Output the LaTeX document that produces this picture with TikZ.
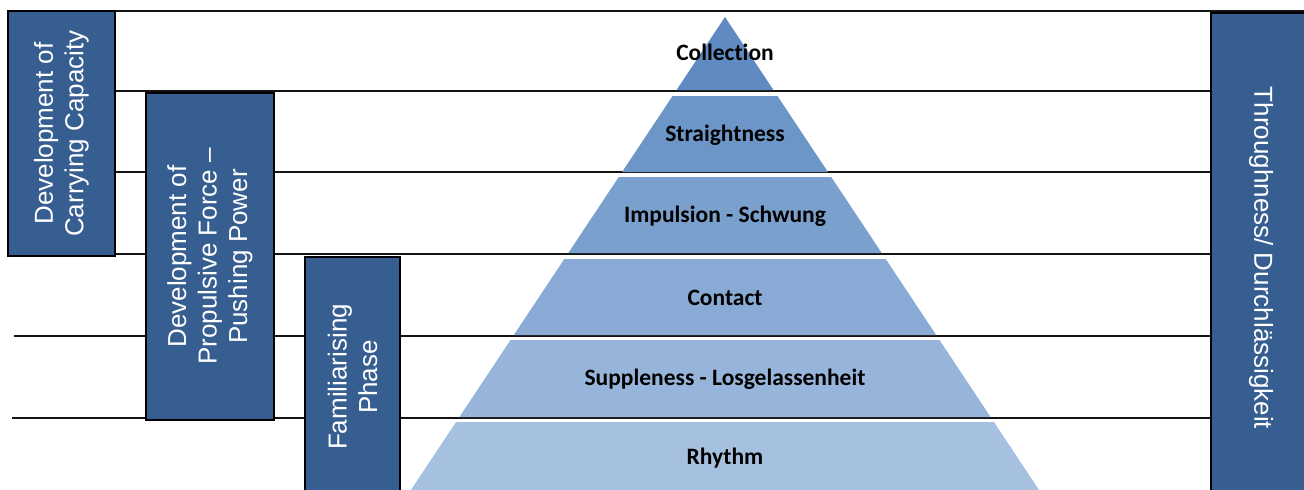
\documentclass[tikz,border=0pt]{standalone}
\usepackage{fontspec}
\setmainfont{Liberation Sans}
\newfontfamily\calib[Ligatures=NoCommon]{Carlito}
\definecolor{boxblue}{RGB}{54,94,144}
\definecolor{lA}{RGB}{95,139,194}
\definecolor{lB}{RGB}{108,150,200}
\definecolor{lC}{RGB}{122,160,206}
\definecolor{lD}{RGB}{136,170,212}
\definecolor{lE}{RGB}{151,181,218}
\definecolor{lF}{RGB}{166,192,224}
\definecolor{rule}{RGB}{20,20,20}
\begin{document}
\begin{tikzpicture}[x=1pt,y=-1pt,
  hline/.style={draw=rule,line width=1.6pt},
  phasebox/.style={draw=black,line width=1.6pt,fill=boxblue,text=white,
    font=\fontsize{26}{30.5}\selectfont,align=center,inner sep=0pt},
  layertext/.style={font=\calib\bfseries\fontsize{23.5}{26}\selectfont,text=black}]
\useasboundingbox (0,0) rectangle (1304,490);
\clip (0,0) rectangle (1304,490);
% horizontal rules
\draw[hline] (8,11) -- (1304,11);
\draw[hline] (115,91) -- (1211,91);
\draw[hline] (115,172) -- (1211,172);
\draw[hline] (115,254) -- (1211,254);
\draw[hline] (14,336) -- (1211,336);
\draw[hline] (12,418) -- (1211,418);
% pyramid layers
\foreach \t/\b/\c/\lbl/\name in {96/172/lB/Straightness/s, 177/253/lC/Impulsion - Schwung/i, 259/335/lD/Contact/c, 340/417/lE/Suppleness - Losgelassenheit/p, 422/492/lF/Rhythm/r}{
  \fill[\c] ({725-(\t-17)*0.664},\t) -- ({725+(\t-17)*0.664},\t) -- ({725+(\b-17)*0.664},\b) -- ({725-(\b-17)*0.664},\b) -- cycle;
  \node[layertext] (lay\name) at (725,{(\t+\b)/2+1}) {\lbl};
}
\fill[lA] (725,17) -- ({725+73*0.664},90) -- ({725-73*0.664},90) -- cycle;
\node[layertext] (laycol) at (725,52) {Collection};
% phase boxes
\node[phasebox,rotate=90,minimum width=245pt,minimum height=107pt] (b1) at (61.5,133.5) {Development of\\Carrying Capacity};
\node[phasebox,rotate=90,minimum width=327pt,minimum height=128pt] (b2) at (210,256.5) {Development of\\Propulsive Force --\\Pushing Power};
\node[phasebox,rotate=90,minimum width=240pt,minimum height=95pt] (b3) at (352.5,377) {Familiarising\\Phase};
\node[phasebox,rotate=-90,minimum width=490pt,minimum height=100pt] (b4) at (1261,258) {Throughness/ Durchlässigkeit};
\end{tikzpicture}
\end{document}
